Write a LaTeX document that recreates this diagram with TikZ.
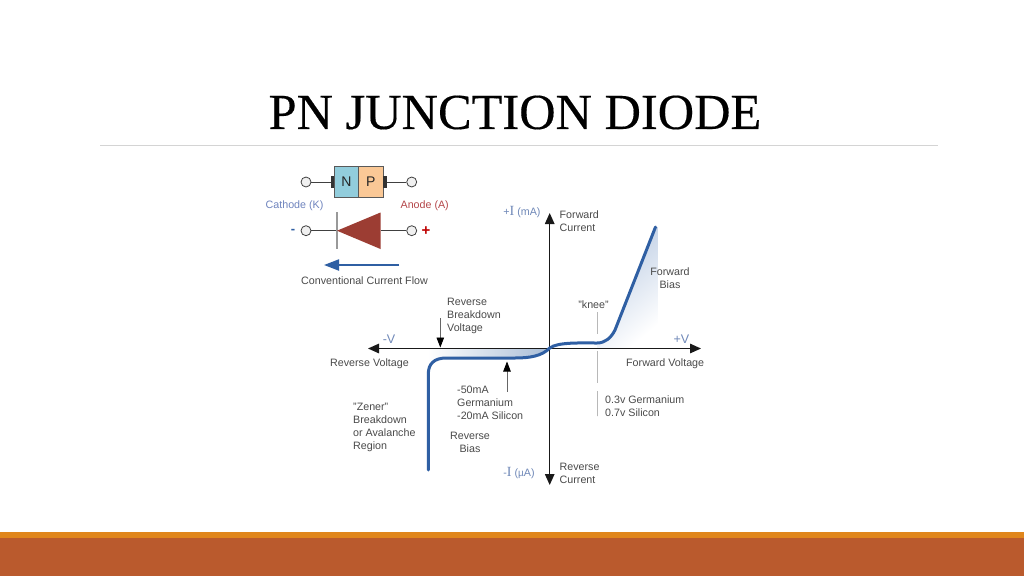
\documentclass[tikz,border=0pt]{standalone}
\usepackage{fontspec}
\setmainfont{Liberation Sans}
\newfontfamily\titlefont[FakeBold=0.3]{Liberation Serif}
\newfontfamily\serifI{Liberation Serif}
\usetikzlibrary{arrows.meta}
\definecolor{txtgray}{HTML}{4A4A4A}
\definecolor{lblblue}{HTML}{6F88B8}
\definecolor{curveblue}{HTML}{2F5FA3}
\definecolor{cathblue}{HTML}{6F84BE}
\definecolor{anodered}{HTML}{B5474A}
\definecolor{diodered}{HTML}{9C3D33}
\definecolor{ncol}{HTML}{92CDDC}
\definecolor{pcol}{HTML}{FAC896}
\definecolor{barorange}{HTML}{E0861C}
\definecolor{barbrown}{HTML}{BA5A2D}
\definecolor{shadeblue}{HTML}{B9CAE2}
\definecolor{shadedark}{HTML}{A9BDD6}
\tikzset{
  lbl/.style={inner sep=0pt,text=txtgray,font=\fontsize{10.7}{13}\selectfont,align=left,anchor=west,yshift=-1pt},
  clbl/.style={lbl,align=center,anchor=center},
  axlbl/.style={inner sep=0pt,text=lblblue,font=\fontsize{10.7}{12}\selectfont,anchor=center},
  term/.style={circle,draw=black!75,fill=black!6,line width=0.8pt,minimum size=10pt,inner sep=0pt},
  wire/.style={draw=black!75,line width=0.9pt},
  axisline/.style={draw=black!90,line width=1.3pt,{Triangle[length=11pt,width=9.5pt]}-{Triangle[length=11pt,width=9.5pt]}},
  pointer/.style={draw=black!60,line width=0.8pt,-{Triangle[length=10pt,width=7.5pt,color=black]}},
  layerbox/.style={draw=black!65,line width=0.8pt,minimum height=30.6pt,minimum width=24.4pt,inner sep=0pt,text=black!85,font=\fontsize{14}{15}\selectfont},
  tabbox/.style={fill=black!80,minimum width=3.4pt,minimum height=12.5pt,inner sep=0pt},
  ivcurve/.style={draw=curveblue,line width=3pt,line cap=round,line join=round}
}
\begin{document}
\begin{tikzpicture}[x=1pt,y=-1pt]
\useasboundingbox (0,0) rectangle (1024,576);
\fill[white] (0,0) rectangle (1024,576);
% title and slide furniture
\node[inner sep=0pt,font=\titlefont\fontsize{50.4}{52}\selectfont,text=black] (title) at (515,112.5) {PN JUNCTION DIODE};
\coordinate (ruleL) at (100,145.5); \coordinate (ruleR) at (938,145.5);
\draw[black!17,line width=1.6pt] (ruleL) -- (ruleR);
\fill[barorange] (0,532) rectangle (1024,538);
\fill[barbrown] (0,538) rectangle (1024,576);
% shaded regions
\begin{scope}
\clip (597,348) -- (597,343) .. controls (605,343) and (611,338) .. (615,330) -- (655.5,227) -- (658,227) -- (658,348) -- cycle;
\shade[left color=shadeblue,right color=white,shading angle=40] (595,225) rectangle (658,350);
\end{scope}
\begin{scope}
\clip (428.3,349) -- (549.7,349) .. controls (542,356) and (530,358) .. (515,358) -- (446,358) .. controls (434,358) and (428.3,364) .. (428.3,374) -- cycle;
\shade[left color=white,right color=shadedark] (428,349) rectangle (549,375);
\end{scope}
% diagram coordinates
\coordinate (ytop) at (549.7,213); \coordinate (ybot) at (549.7,485);
\coordinate (xleft) at (368,348.5); \coordinate (xright) at (701,348.5);
% knee dashes
\coordinate (k1) at (597.7,312); \coordinate (k2) at (597.7,416);
\draw[black!28,line width=1.2pt,dash pattern=on 22pt off 17pt on 32pt off 8pt on 25pt off 0pt] (k1) -- (k2);
% axes
\draw[axisline] (xleft) -- (xright);
\draw[axisline] (ytop) -- (ybot);
% IV curve
\coordinate (c1) at (655.5,227); \coordinate (c2) at (615,330); \coordinate (c3) at (597,343);
\coordinate (c4) at (549.7,348); \coordinate (c5) at (515,358); \coordinate (c6) at (446,358);
\coordinate (c7) at (428.3,374); \coordinate (c8) at (428.3,470);
\draw[ivcurve] (c1) -- (c2) .. controls (611,338) and (605,343) .. (c3)
  .. controls (580,343) and (558,342) .. (c4)
  .. controls (542,356) and (530,358) .. (c5) -- (c6)
  .. controls (434,358) and (428.3,364) .. (c7) -- (c8);
% pointers
\coordinate (rb1) at (440.3,318); \coordinate (rb2) at (440.3,347.5);
\draw[pointer] (rb1) -- (rb2);
\coordinate (rc1) at (507,391.5); \coordinate (rc2) at (507,361.5);
\draw[pointer] (rc1) -- (rc2);
% physical diode
\node[layerbox,fill=ncol] (nbox) at (346.5,182) {N};
\node[layerbox,fill=pcol] (pbox) at (370.9,182) {P};
\node[tabbox] (ntab) at (332.4,182) {};
\node[tabbox] (ptab) at (385,182) {};
\node[term] (t1) at (306,182) {};
\node[term] (t2) at (411.7,182) {};
\draw[wire] (t1) -- (ntab);
\draw[wire] (ptab) -- (t2);
% symbol
\node[term] (t3) at (306,230.7) {};
\node[term] (t4) at (411.7,230.7) {};
\coordinate (tip) at (337,230.7);
\coordinate (base) at (380.5,230.7);
\coordinate (bar1) at (337,212); \coordinate (bar2) at (337,248.5);
\draw[wire] (t3) -- (tip);
\draw[wire] (base) -- (t4);
\draw[black!40,line width=1.2pt] (bar1) -- (bar2);
\fill[diodered] (tip) -- (380.5,212.5) -- (380.5,249) -- cycle;
\coordinate (ccf1) at (399,265); \coordinate (ccf2) at (324,265);
\draw[curveblue,line width=2pt,-{Triangle[length=15pt,width=11pt]}] (ccf1) -- (ccf2);
% labels
\node[clbl,text=cathblue] (cath) at (294.5,205) {Cathode (K)};
\node[clbl,text=anodered] (anod) at (424.7,205) {Anode (A)};
\node[inner sep=0pt,text=curveblue,font=\bfseries\fontsize{13}{14}\selectfont] (minus) at (293,231) {-};
\node[inner sep=0pt,text=red!75!black,font=\bfseries\fontsize{15}{15}\selectfont] (plus) at (426,231) {+};
\node[clbl] (ccf) at (364.5,279.5) {Conventional Current Flow};
\node[lbl] (rbv) at (447,315) {Reverse\\Breakdown\\Voltage};
\node[lbl] (fc) at (559.5,220.5) {Forward\\Current};
\node[clbl] (fb) at (670,277.5) {Forward\\Bias};
\node[clbl] (knee) at (593.5,304) {"knee"};
\node[lbl] (rv) at (330,363) {Reverse Voltage};
\node[lbl] (fv) at (626,363) {Forward Voltage};
\node[lbl] (ma) at (457,402) {-50mA\\Germanium\\-20mA Silicon};
\node[clbl] (rbias) at (470,441.5) {Reverse\\Bias};
\node[lbl] (zen) at (353,426.5) {"Zener"\\Breakdown\\or Avalanche\\Region};
\node[lbl] (vf) at (605,405.5) {0.3v Germanium\\0.7v Silicon};
\node[lbl] (rc) at (559.5,472.5) {Reverse\\Current};
\node[axlbl,font=\fontsize{12.5}{12}\selectfont] (pv) at (681.5,339) {+V};
\node[axlbl,font=\fontsize{12.5}{12}\selectfont] (mv) at (389,339) {-V};
\node[axlbl] (pi) at (522,212) {+{\serifI\fontsize{14}{14}\selectfont I} (mA)};
\node[axlbl] (mi) at (519,473) {-{\serifI\fontsize{14}{14}\selectfont I} ({\fontsize{10}{10}\selectfont µ}A)};
\end{tikzpicture}
\end{document}
